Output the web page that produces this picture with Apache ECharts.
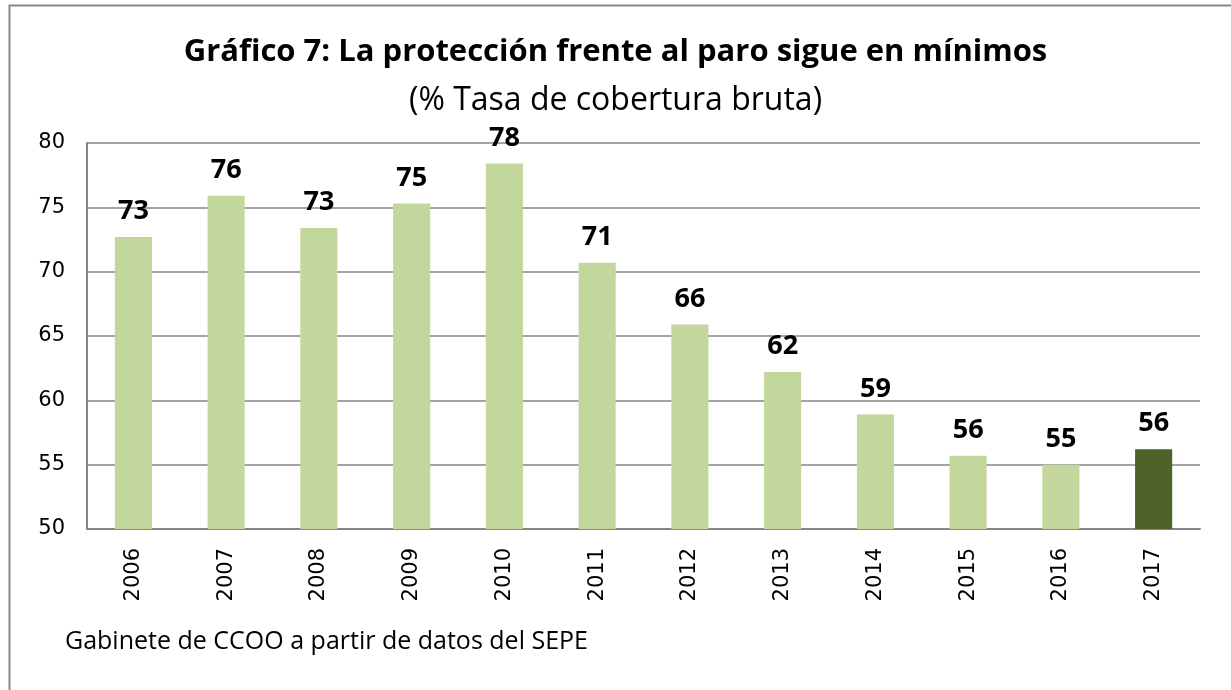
<!DOCTYPE html>
<html>
<head>
<meta charset="utf-8">
<script src="https://cdn.jsdelivr.net/npm/echarts@6/dist/echarts.min.js"></script>
<style>
  html, body { margin: 0; padding: 0; background: #fff; }
  #chart { width: 1231px; height: 690px; }
</style>
</head>
<body>
<div id="chart"></div>
<script>
// datos
var years = ['2006', '2007', '2008', '2009', '2010', '2011', '2012', '2013', '2014', '2015', '2016', '2017'];
var cobertura = [72.7, 75.9, 73.4, 75.3, 78.4, 70.7, 65.9, 62.2, 58.9, 55.7, 55.0, 56.2];
var yTicks = [50, 55, 60, 65, 70, 75, 80];

var colorClaro = '#C3D69B';
var colorOscuro = '#4F6228';

var myChart = echarts.init(document.getElementById('chart'));

var barData = cobertura.map(function (v, i) {
    return {
        value: v,
        itemStyle: { color: i === years.length - 1 ? colorOscuro : colorClaro }
    };
});

var option = {
    backgroundColor: '#fff',
    animation: false,
    title: [{
        text: 'Gráfico 7: La protección frente al paro sigue en mínimos',
        left: 'center',
        top: 32,
        textStyle: { fontFamily: 'Open Sans', fontWeight: 'bold', fontSize: 31, color: '#000' }
    }, {
        text: '(% Tasa de cobertura bruta)',
        left: 'center',
        top: 80,
        textStyle: { fontFamily: 'Open Sans', fontWeight: 'normal', fontSize: 32, color: '#000' }
    }, {
        text: 'Gabinete de CCOO a partir de datos del SEPE',
        left: 60,
        top: 624,
        textStyle: { fontFamily: 'Open Sans', fontWeight: 'normal', fontSize: 25, color: '#000' }
    }],
    graphic: [{
        type: 'rect',
        shape: { x: 9.5, y: 5.5, width: 1240, height: 700 },
        style: { fill: 'none', stroke: '#888', lineWidth: 2 },
        silent: true
    }],
    grid: {
        left: 87,
        right: 31,
        top: 143,
        bottom: 161
    },
    xAxis: {
        type: 'category',
        data: years,
        axisLine: { lineStyle: { color: '#868686', width: 2 } },
        axisTick: { show: false },
        axisLabel: {
            rotate: 90,
            margin: 19,
            fontFamily: 'DejaVu Sans',
            fontSize: 21,
            color: '#000'
        }
    },
    yAxis: {
        type: 'value',
        min: yTicks[0],
        max: yTicks[yTicks.length - 1],
        interval: 5,
        axisLine: { show: true, lineStyle: { color: '#868686', width: 2 } },
        axisTick: { show: false },
        splitLine: { lineStyle: { color: '#868686', width: 1.5 } },
        axisLabel: {
            margin: 22,
            fontFamily: 'DejaVu Sans',
            fontSize: 21,
            color: '#000'
        }
    },
    series: [{
        type: 'bar',
        data: barData,
        barCategoryGap: '60%',
        label: {
            show: true,
            position: 'top',
            distance: 12,
            fontFamily: 'Open Sans',
            fontWeight: 'bold',
            fontSize: 27,
            color: '#000',
            formatter: function (p) { return Math.round(p.value); }
        }
    }]
};

myChart.setOption(option);
</script>
</body>
</html>
